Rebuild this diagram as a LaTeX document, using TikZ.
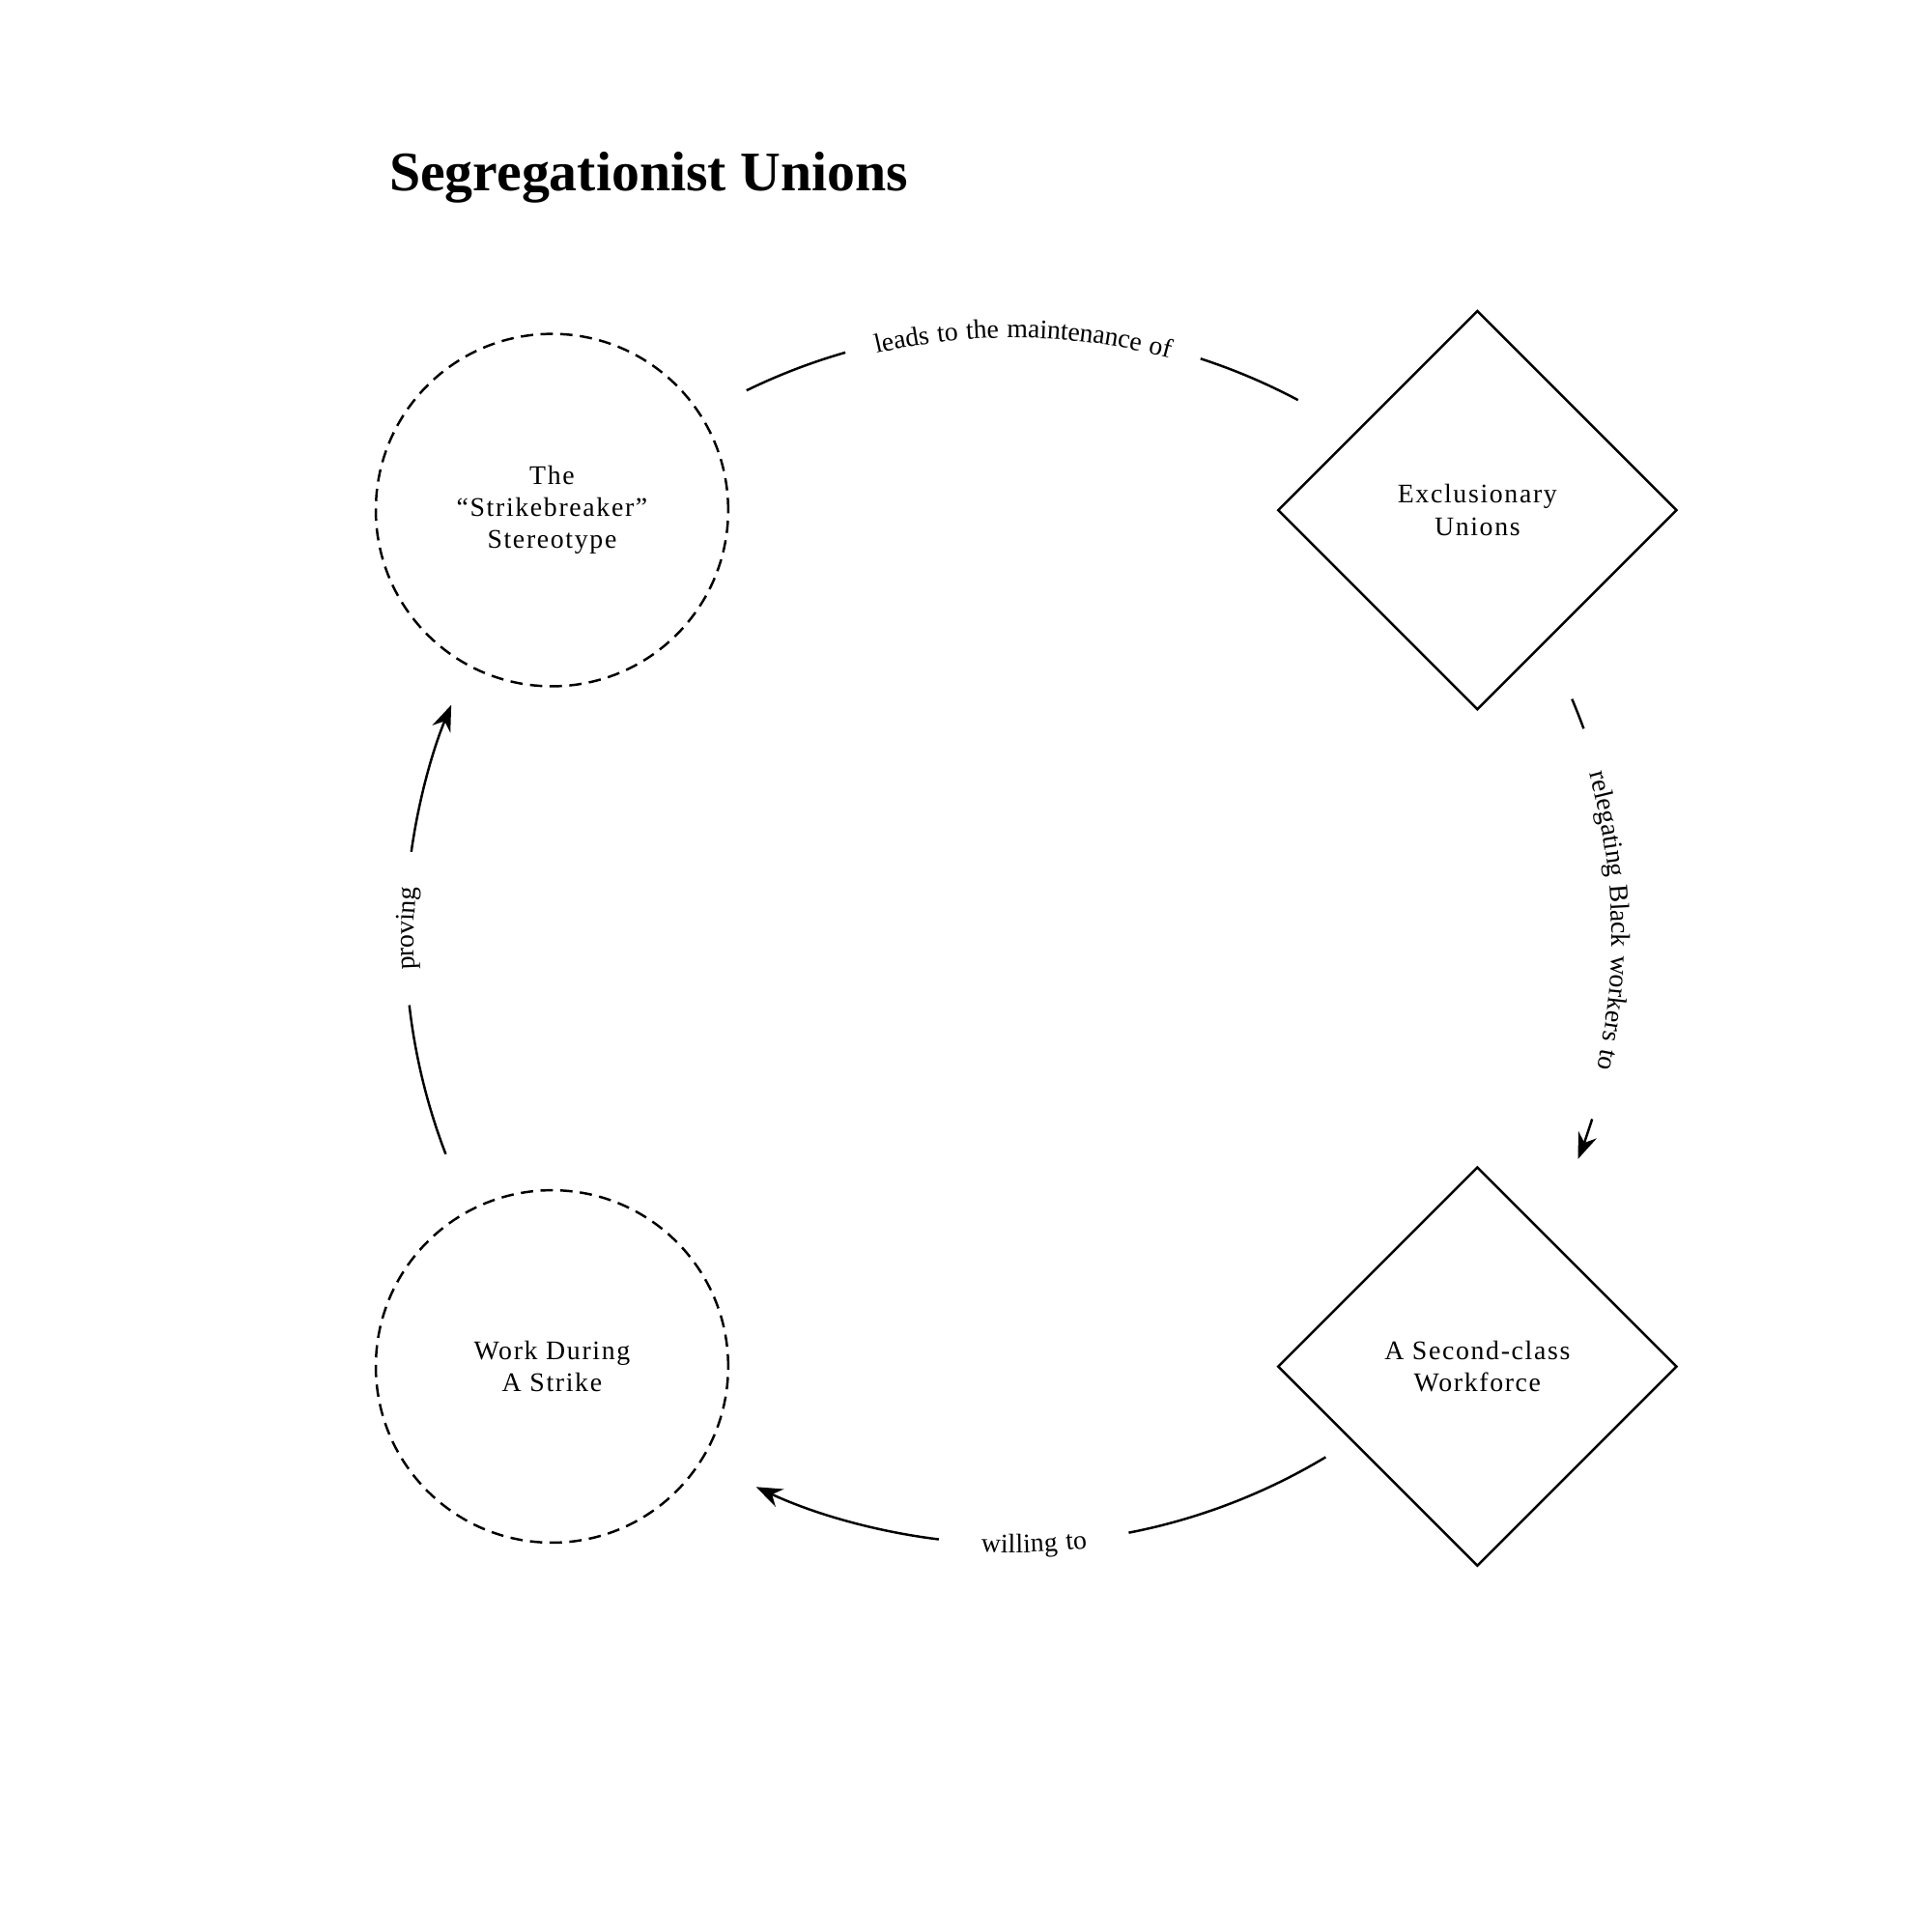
\documentclass[tikz,border=0pt]{standalone}
\usepackage{fontspec}
\setmainfont{Liberation Serif}
\usetikzlibrary{shapes.geometric,arrows.meta,calc,decorations.text}
\newcommand\nodefont{\fontsize{6.2}{7.4}\selectfont\addfontfeature{LetterSpace=6}}
\newcommand\arcfont{\fontsize{6.2}{7.4}\selectfont\addfontfeature{LetterSpace=6}}
\tikzset{
  stereo/.style={draw,circle,dashed,dash pattern=on 0.1cm off 0.06cm,minimum size=2.86cm,inner sep=0,align=center,font=\nodefont},
  union/.style={draw,diamond,minimum width=3.24cm,minimum height=3.24cm,inner sep=0,align=center,font=\nodefont},
  loopline/.style={line width=0.55pt},
  looptext/.style={decorate,decoration={text along path,text align=center,raise=-2pt,text={|\arcfont|#1}}}
}
\begin{document}
\begin{tikzpicture}[line width=0.55pt]
\useasboundingbox (0,0) rectangle (15.68,15.68);
\node[anchor=base west,inner sep=0,font=\fontsize{12.9}{15}\selectfont\bfseries] (title) at (3.15,14.13) {Segregationist Unions};
% nodes
\node[stereo] (strike) at (4.48,11.54) {The\\“Strikebreaker”\\Stereotype};
\node[union] (excl) at (11.99,11.54) {Exclusionary\\Unions};
\node[union] (second) at (11.99,4.59) {A Second-class\\Workforce};
\node[stereo] (work) at (4.48,4.59) {Work During\\A Strike};
\coordinate (C) at (8.22,8.08);
% top
\draw[loopline] ($(C)+(116:4.93)$) arc[start angle=116,end angle=106,radius=4.93cm];
\path[looptext={leads to the maintenance of}] ($(C)+(106:4.93)$) arc[start angle=106,end angle=72,radius=4.93cm];
\draw[loopline] ($(C)+(72:4.93)$) arc[start angle=72,end angle=62,radius=4.93cm];
% right
\draw[loopline] ($(C)+(23:4.93)$) arc[start angle=23,end angle=20,radius=4.93cm];
\path[looptext={relegating Black workers to}] ($(C)+(19:4.93)$) arc[start angle=19,end angle=-16,radius=4.93cm];
\draw[loopline,-{Stealth[length=6pt,width=4.5pt]}] ($(C)+(-17.5:4.93)$) arc[start angle=-17.5,end angle=-21.5,radius=4.93cm];
% bottom
\draw[loopline] ($(C)+(-59:4.93)$) arc[start angle=-59,end angle=-79,radius=4.93cm];
\path[looptext={willing to}] ($(C)+(-97:4.93)$) arc[start angle=-97,end angle=-79,radius=4.93cm];
\draw[loopline,-{Stealth[length=6pt,width=4.5pt]}] ($(C)+(-97:4.93)$) arc[start angle=-97,end angle=-115,radius=4.93cm];
% left
\draw[loopline] ($(C)+(201:4.93)$) arc[start angle=201,end angle=186.5,radius=4.93cm];
\path[looptext={proving}] ($(C)+(186.5:4.93)$) arc[start angle=186.5,end angle=172,radius=4.93cm];
\draw[loopline,-{Stealth[length=6pt,width=4.5pt]}] ($(C)+(172:4.93)$) arc[start angle=172,end angle=157.6,radius=4.93cm];
\end{tikzpicture}
\end{document}
